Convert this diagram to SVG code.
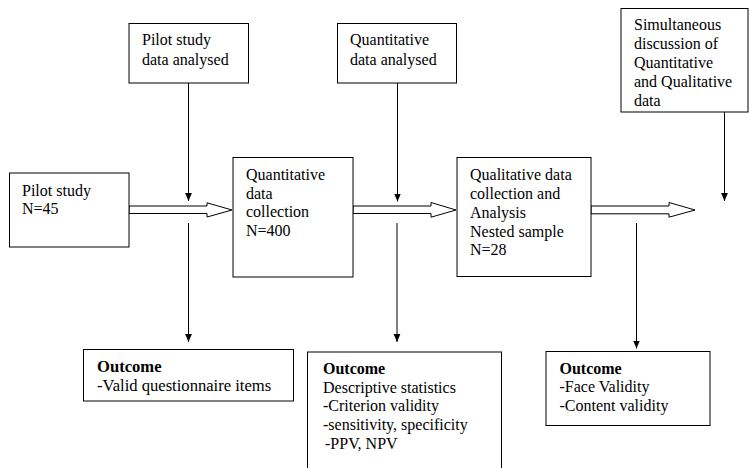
<svg xmlns="http://www.w3.org/2000/svg" width="749" height="468" viewBox="0 0 749 468">
<defs>
<style>
.box{fill:#fff;stroke:#000;stroke-width:1}
.ln{stroke:#000;stroke-width:1;fill:none}
.ha{fill:#fff;stroke:#000;stroke-width:1;stroke-linejoin:miter}
</style>
<marker id="ah" viewBox="0 0 8 8" refX="8" refY="4" markerWidth="8" markerHeight="8" markerUnits="userSpaceOnUse" orient="auto">
<path d="M0,0.6 L8,4 L0,7.4 Z" fill="#000"/>
</marker>
</defs>
<rect width="749" height="468" fill="#fff"/>

<g id="connectors">
<polygon class="ha" points="129,206 207,206 207,202.8 232,210 207,217 207,213.5 129,213.5"/>
<polygon class="ha" points="353,206 431,206 431,202.5 456,210 431,217.2 431,213.5 353,213.5"/>
<polygon class="ha" points="591,206 669,206 669,202.5 695,210 669,217.2 669,213.8 591,213.8"/>
<line class="ln" x1="188.5" y1="83" x2="188.5" y2="201" marker-end="url(#ah)"/>
<line class="ln" x1="188.5" y1="223" x2="188.5" y2="342" marker-end="url(#ah)"/>
<line class="ln" x1="397.5" y1="83" x2="397.5" y2="201.5" marker-end="url(#ah)"/>
<line class="ln" x1="397" y1="223" x2="397" y2="342" marker-end="url(#ah)"/>
<line class="ln" x1="724.5" y1="112" x2="724.5" y2="201" marker-end="url(#ah)"/>
<line class="ln" x1="636.5" y1="223" x2="636.5" y2="348.5" marker-end="url(#ah)"/>
</g>

<g id="pilot-analysed">
<rect class="box" x="129" y="23.5" width="119.5" height="59.5"/>
<text font-family="Liberation Serif" font-size="16" x="142" y="45">Pilot study</text>
<text font-family="Liberation Serif" font-size="16" x="142" y="65">data analysed</text>
</g>

<g id="quant-analysed">
<rect class="box" x="337.5" y="23.5" width="119" height="59.5"/>
<text font-family="Liberation Serif" font-size="16" x="350" y="45">Quantitative</text>
<text font-family="Liberation Serif" font-size="16" x="350" y="65">data analysed</text>
</g>

<g id="simultaneous">
<rect class="box" x="621" y="8.5" width="127" height="103.5"/>
<text font-family="Liberation Serif" font-size="16" x="634" y="30">Simultaneous</text>
<text font-family="Liberation Serif" font-size="16" x="634" y="49">discussion of</text>
<text font-family="Liberation Serif" font-size="16" x="634" y="68">Quantitative</text>
<text font-family="Liberation Serif" font-size="16" x="634" y="87">and Qualitative</text>
<text font-family="Liberation Serif" font-size="16" x="634" y="106">data</text>
</g>

<g id="pilot-study">
<rect class="box" x="9.5" y="173" width="119.5" height="74"/>
<text font-family="Liberation Serif" font-size="16" x="22" y="195.5">Pilot study</text>
<text font-family="Liberation Serif" font-size="16" x="22" y="213.5">N=45</text>
</g>

<g id="quant-collection">
<rect class="box" x="233" y="157.5" width="120" height="119.5"/>
<text font-family="Liberation Serif" font-size="16" x="246" y="180">Quantitative</text>
<text font-family="Liberation Serif" font-size="16" x="246" y="198.7">data</text>
<text font-family="Liberation Serif" font-size="16" x="246" y="217.3">collection</text>
<text font-family="Liberation Serif" font-size="16" x="246" y="236">N=400</text>
</g>

<g id="qual-collection">
<rect class="box" x="457" y="157.5" width="134" height="119"/>
<text font-family="Liberation Serif" font-size="16" x="470" y="180">Qualitative data</text>
<text font-family="Liberation Serif" font-size="16" x="470" y="199">collection and</text>
<text font-family="Liberation Serif" font-size="16" x="470" y="218">Analysis</text>
<text font-family="Liberation Serif" font-size="16" x="470" y="236.7">Nested sample</text>
<text font-family="Liberation Serif" font-size="16" x="470" y="255">N=28</text>
</g>

<g id="outcome-1">
<rect class="box" x="83.5" y="349.5" width="210" height="51.5"/>
<text font-family="Liberation Serif" font-size="16.6" font-weight="bold" x="97" y="372">Outcome</text>
<text font-family="Liberation Serif" font-size="16.6" x="97" y="390.5">-Valid questionnaire items</text>
</g>

<g id="outcome-2">
<rect class="box" x="307.5" y="352" width="194" height="130"/>
<text font-family="Liberation Serif" font-size="16" font-weight="bold" x="323" y="373.5">Outcome</text>
<text font-family="Liberation Serif" font-size="16" x="323" y="392.5">Descriptive statistics</text>
<text font-family="Liberation Serif" font-size="16" x="323" y="411">-Criterion validity</text>
<text font-family="Liberation Serif" font-size="16" x="323" y="429.5">-sensitivity, specificity</text>
<text font-family="Liberation Serif" font-size="16" x="325" y="448.5">-PPV, NPV</text>
</g>

<g id="outcome-3">
<rect class="box" x="546" y="351.5" width="164" height="74"/>
<text font-family="Liberation Serif" font-size="16" font-weight="bold" x="559.5" y="373.5">Outcome</text>
<text font-family="Liberation Serif" font-size="16" x="559.5" y="392">-Face Validity</text>
<text font-family="Liberation Serif" font-size="16" x="559.5" y="411">-Content validity</text>
</g>
</svg>
